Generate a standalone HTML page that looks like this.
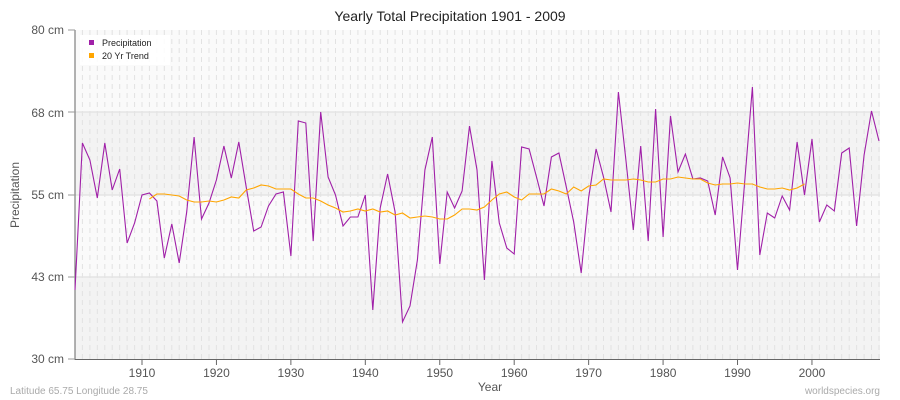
<!DOCTYPE html>
<html><head><meta charset="utf-8"><style>
body{margin:0;background:#fff;}
svg{display:block;font-family:"Liberation Sans",sans-serif;}
</style></head><body>
<svg width="900" height="400" viewBox="0 0 900 400" xmlns="http://www.w3.org/2000/svg">
<rect width="900" height="400" fill="#fff"/>
<rect x="75" y="30" width="805" height="82" fill="#fafafa"/>
<rect x="75" y="112" width="805" height="83" fill="#f3f3f3"/>
<rect x="75" y="195" width="805" height="82" fill="#fafafa"/>
<rect x="75" y="277" width="805" height="82" fill="#f3f3f3"/>
<g id="vg" stroke="#e2e2e2" stroke-width="1" stroke-dasharray="5,4"></g>
<g stroke="#e4e4e4" stroke-width="1.5">
<line x1="75" y1="112" x2="880" y2="112"/><line x1="75" y1="195" x2="880" y2="195"/><line x1="75" y1="277" x2="880" y2="277"/>
</g>
<line x1="75" y1="30" x2="75" y2="360" stroke="#666"/>
<line x1="75" y1="359.5" x2="880" y2="359.5" stroke="#666"/>
<g stroke="#999"><line x1="68" y1="30" x2="75" y2="30"/><line x1="68" y1="112" x2="75" y2="112"/><line x1="68" y1="195" x2="75" y2="195"/><line x1="68" y1="277" x2="75" y2="277"/><line x1="68" y1="359" x2="75" y2="359"/></g>
<g id="xt" stroke="#666"></g>
<g font-size="12" fill="#555" text-anchor="end">
<text x="64" y="34">80 cm</text><text x="64" y="117">68 cm</text><text x="64" y="199">55 cm</text><text x="64" y="281">43 cm</text><text x="64" y="363">30 cm</text>
</g>
<g id="xl" font-size="12" fill="#555" text-anchor="middle"></g>
<text x="450" y="21" font-size="14" text-anchor="middle" fill="#222">Yearly Total Precipitation 1901 - 2009</text>
<text x="490" y="391" font-size="12" text-anchor="middle" fill="#555">Year</text>
<text transform="translate(19,195) rotate(-90)" font-size="12" text-anchor="middle" fill="#555">Precipitation</text>
<text x="10" y="394" font-size="10" fill="#aaa">Latitude 65.75 Longitude 28.75</text>
<text x="880" y="394" font-size="10" fill="#aaa" text-anchor="end">worldspecies.org</text>
<polyline id="p" fill="none" stroke="#a020a8" stroke-width="1.1"/>
<polyline id="t" fill="none" stroke="#ffa500" stroke-width="1.1"/>
<rect x="80" y="35" width="90" height="30" fill="#fff" opacity="0.9"/>
<rect x="89" y="40" width="5" height="5" fill="#a020a8"/>
<rect x="89" y="53" width="5" height="5" fill="#ffa500"/>
<text x="102" y="46" font-size="9" fill="#222">Precipitation</text>
<text x="102" y="59" font-size="9" fill="#222">20 Yr Trend</text>
</svg>
<script>
var P=[290,143,160,198,143,190,169,243,223,195,193,201,258,224,263,212,137,219,203,180,146,178,142,187,231,227,206,194,192,256,121,123,241,112,177,195,226,217,217,195,310,208,174,212,322,306,260,170,137,264,192,208,191,126,170,280,161,223,248,254,147,149,177,206,157,153,187,222,273,198,149,177,212,92,160,230,146,241,109,237,116,172,154,179,178,181,215,157,178,270,178,87,255,213,218,196,210,142,195,139,222,205,211,153,148,226,155,111,141];
var T=[199,194,194,195,196,200,202,202,201,202,200,197,198,190,188,185,186,189,189,189,194,198,198,201,205,208,212,211,209,211,209,212,211,215,213,218,217,216,217,219,219,215,209,209,210,207,200,194,192,197,200,194,194,194,189,191,194,187,191,186,185,179,180,180,180,179,180,182,182,179,179,177,178,179,179,183,185,184,184,183,184,184,187,189,189,188,190,188,184];
function X(y){return 75+(y-1901)*7.444;}
document.getElementById('p').setAttribute('points',P.map(function(v,i){return X(1901+i).toFixed(1)+','+v}).join(' '));
document.getElementById('t').setAttribute('points',T.map(function(v,i){return X(1911+i).toFixed(1)+','+v}).join(' '));
var ns='http://www.w3.org/2000/svg',vg=document.getElementById('vg'),xt=document.getElementById('xt'),xl=document.getElementById('xl');
for(var y=1902;y<=2009;y++){var l=document.createElementNS(ns,'line');var x=X(y).toFixed(1);l.setAttribute('x1',x);l.setAttribute('x2',x);l.setAttribute('y1',30);l.setAttribute('y2',359);vg.appendChild(l);}
for(var y=1910;y<=2000;y+=10){var x=X(y);var l=document.createElementNS(ns,'line');l.setAttribute('x1',x);l.setAttribute('x2',x);l.setAttribute('y1',359);l.setAttribute('y2',365);xt.appendChild(l);var t=document.createElementNS(ns,'text');t.setAttribute('x',x);t.setAttribute('y',377);t.textContent=y;xl.appendChild(t);}
</script>
</body></html>
